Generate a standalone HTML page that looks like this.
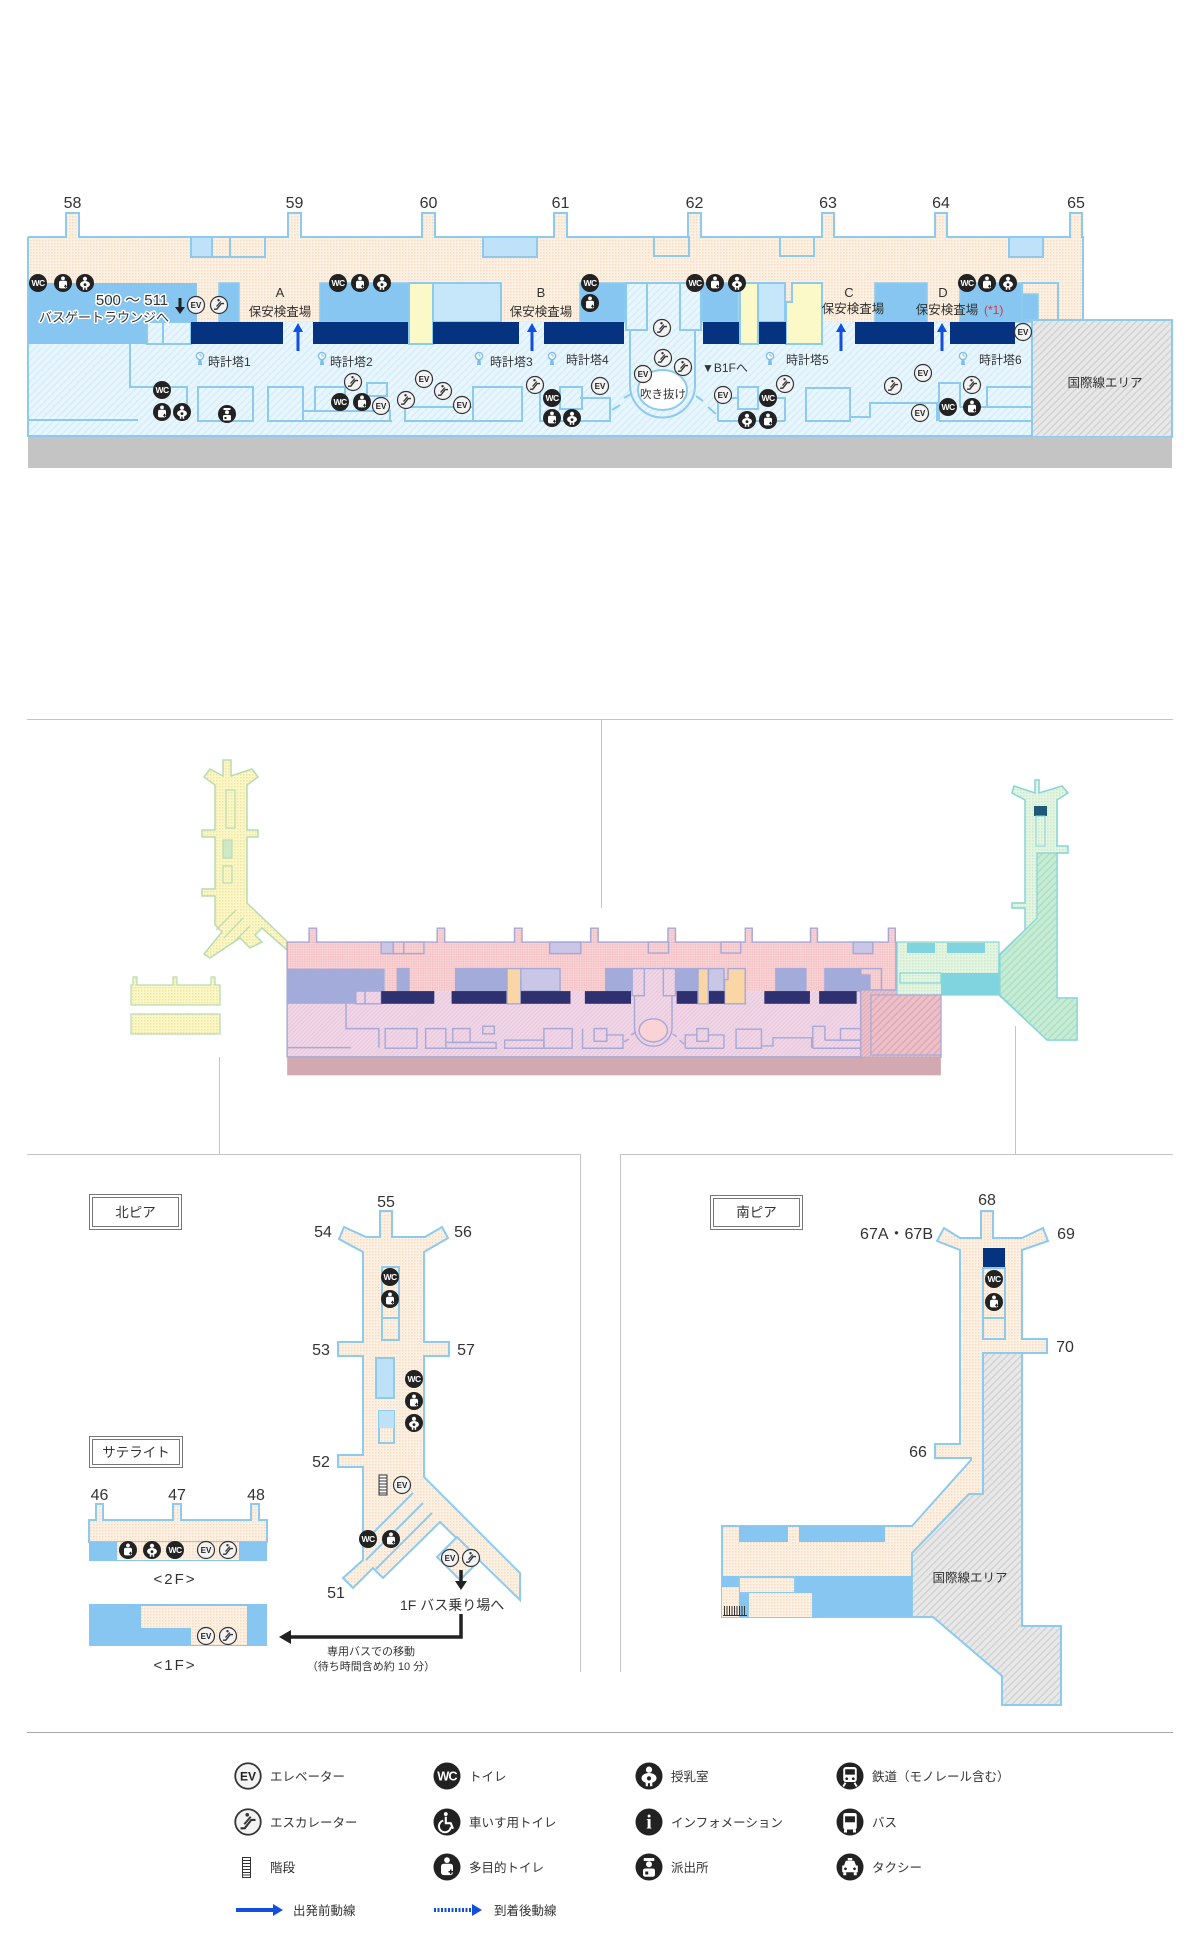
<!DOCTYPE html>
<html><head><meta charset="utf-8">
<style>
html,body{margin:0;padding:0;background:#fff;}
svg{display:block;}
text{font-family:"Liberation Sans","Noto Sans CJK JP",sans-serif;fill:#333;}
.g{font-size:16px;text-anchor:middle;}
.wc{font-size:8.5px;font-weight:bold;fill:#fff;text-anchor:middle;letter-spacing:-0.6px;}
.ev{font-size:8px;font-weight:bold;fill:#222;text-anchor:middle;}
.evc{fill:#f3f3f3;stroke:#333;stroke-width:1.2;}
.s{stroke:#8ccaf0;stroke-width:2;}
.s1{stroke:#8ccaf0;stroke-width:1.5;}
.n{fill:none;}
.lb{font-size:12px;}
.sec{font-size:12.5px;text-anchor:middle;}
.halo{paint-order:stroke;stroke:#fff;stroke-width:3px;stroke-linejoin:round;}
.p{stroke:#a6a9d8;stroke-width:2.5;}
.lg{font-size:12.5px;}
</style></head><body>
<svg width="1200" height="1949" viewBox="0 0 1200 1949" xmlns="http://www.w3.org/2000/svg">
<defs>
<pattern id="pB" width="3" height="3" patternUnits="userSpaceOnUse"><rect width="3" height="3" fill="#fdf1e3"/><rect width="1.5" height="1.5" fill="#f6dcc2"/></pattern>
<pattern id="hB" width="5" height="5" patternUnits="userSpaceOnUse" patternTransform="rotate(45)"><rect width="5" height="5" fill="#e9f6fe"/><rect width="1.5" height="5" fill="#d6edfb"/></pattern>
<pattern id="hG" width="5" height="5" patternUnits="userSpaceOnUse" patternTransform="rotate(45)"><rect width="5" height="5" fill="#e8e8e8"/><rect width="1.5" height="5" fill="#d2d2d2"/></pattern>
<pattern id="pP" width="3" height="3" patternUnits="userSpaceOnUse"><rect width="3" height="3" fill="#f9d3d5"/><rect width="1.5" height="1.5" fill="#f1b5ba"/></pattern>
<pattern id="hP" width="5" height="5" patternUnits="userSpaceOnUse" patternTransform="rotate(45)"><rect width="5" height="5" fill="#f0d6e7"/><rect width="1.5" height="5" fill="#e6c5da"/></pattern>
<pattern id="hD" width="5" height="5" patternUnits="userSpaceOnUse" patternTransform="rotate(45)"><rect width="5" height="5" fill="#ebc0c9"/><rect width="1.5" height="5" fill="#dfa9b5"/></pattern>
<pattern id="pY" width="3" height="3" patternUnits="userSpaceOnUse"><rect width="3" height="3" fill="#fcf7c8"/><rect width="1.5" height="1.5" fill="#efe59c"/></pattern>
<pattern id="pG" width="3" height="3" patternUnits="userSpaceOnUse"><rect width="3" height="3" fill="#e4f5e1"/><rect width="1.5" height="1.5" fill="#cde9cd"/></pattern>
<pattern id="hS" width="5" height="5" patternUnits="userSpaceOnUse" patternTransform="rotate(45)"><rect width="5" height="5" fill="#c6ecd5"/><rect width="1.5" height="5" fill="#addfc2"/></pattern>
<g id="multi"><circle r="9" fill="#222"/><circle cy="-4.6" r="1.9" fill="#fff"/><rect x="-4" y="-2.2" width="8" height="7.6" rx="1.8" fill="#fff"/><path d="M1,3.2h3M2.5,1.7v3" stroke="#222" stroke-width="1"/></g>
<g id="nurse"><circle r="9" fill="#222"/><circle cy="-4.2" r="2.1" fill="#fff"/><ellipse cy="1.4" rx="5" ry="3.4" fill="#fff"/><circle cy="1.6" r="1.4" fill="#222"/><rect x="-2.2" y="4" width="1.5" height="2.8" fill="#fff"/><rect x="0.7" y="4" width="1.5" height="2.8" fill="#fff"/></g>
<g id="esc"><circle r="8.5" fill="#f3f3f3" stroke="#333" stroke-width="1.2"/><path d="M-5,4.2H-2.2L2.2,-1.4H5" fill="none" stroke="#333" stroke-width="1.4"/><path d="M-2.5,1.5L1.8,-3.5" stroke="#333" stroke-width="1.2"/><circle cx="-0.5" cy="-4.8" r="1.2" fill="#333"/></g>
<g id="police"><circle r="9" fill="#222"/><path d="M-3.5,-6h7v2h-7z" fill="#fff"/><circle cy="-1.8" r="2" fill="#fff"/><rect x="-4" y="1" width="8" height="5.5" rx="1.5" fill="#fff"/><rect x="-2.5" y="3" width="2" height="2" fill="#222"/></g>
<g id="clock"><circle cy="-2" r="3.6" fill="#fff" stroke="#7cbde9" stroke-width="1.4"/><path d="M0,-2V-4.2M0,-2H1.8" stroke="#7cbde9" stroke-width="1"/><path d="M-1.4,1.6h2.8l0.6,5.4h-4z" fill="#7cbde9"/></g>
<g id="wheel"><circle r="9" fill="#222"/><circle cx="-0.8" cy="-5.3" r="1.3" fill="#fff"/><path d="M-0.8,-3.5V0.8H2.5L4,4.5" fill="none" stroke="#fff" stroke-width="1.4"/><path d="M-2.5,-1A4,4 0 1 0 2.6,3.2" fill="none" stroke="#fff" stroke-width="1.3"/></g>
<g id="train"><circle r="9" fill="#222"/><rect x="-4.5" y="-6" width="9" height="10" rx="1.8" fill="#fff"/><rect x="-3.2" y="-4.5" width="6.4" height="3.6" fill="#222"/><circle cx="-2.2" cy="1.8" r="0.9" fill="#222"/><circle cx="2.2" cy="1.8" r="0.9" fill="#222"/><path d="M-3,4.5L-4.5,7M3,4.5L4.5,7" stroke="#fff" stroke-width="1.2"/></g>
<g id="bus"><circle r="9" fill="#222"/><rect x="-4.5" y="-6" width="9" height="11" rx="1.5" fill="#fff"/><rect x="-3.3" y="-3.8" width="6.6" height="4" fill="#222"/><rect x="-4" y="5" width="2" height="2" fill="#fff"/><rect x="2" y="5" width="2" height="2" fill="#fff"/></g>
<g id="taxi"><circle r="9" fill="#222"/><rect x="-1.5" y="-6" width="3" height="1.6" fill="#fff"/><path d="M-4,-1L-2.8,-4.2H2.8L4,-1H5.2V3.5H-5.2V-1Z" fill="#fff"/><rect x="-4.5" y="3.5" width="2" height="2" fill="#fff"/><rect x="2.5" y="3.5" width="2" height="2" fill="#fff"/><circle cx="-3" cy="1.2" r="0.9" fill="#222"/><circle cx="3" cy="1.2" r="0.9" fill="#222"/></g>
</defs>

<!-- ================= TOP MAP ================= -->
<rect x="28" y="237" width="1055" height="85" fill="url(#pB)"/>
<path d="M28,237H1083V320" class="s n"/>
<g fill="url(#pB)" class="s">
<path d="M66,238V213H79V238"/><path d="M288,238V213H301V238"/><path d="M422,238V213H435V238"/><path d="M554,238V213H567V238"/><path d="M688,238V213H701V238"/><path d="M822,238V213H834V238"/><path d="M935,238V213H947V238"/><path d="M1070,238V213H1082V238"/>
</g>
<rect x="191" y="237" width="21" height="20" fill="#bfe2f8" class="s"/>
<rect x="212" y="237" width="18" height="20" fill="url(#pB)" class="s"/>
<rect x="230" y="237" width="35" height="20" fill="url(#pB)" class="s"/>
<rect x="483" y="237" width="54" height="20" fill="#bfe2f8" class="s"/>
<rect x="654" y="237" width="35" height="19" fill="url(#pB)" class="s"/>
<rect x="780" y="237" width="34" height="19" fill="url(#pB)" class="s"/>
<rect x="1009" y="237" width="34" height="20" fill="#bfe2f8" class="s"/>

<rect x="28" y="322" width="1004" height="114" fill="url(#hB)"/>
<rect x="28" y="283" width="169" height="61" fill="#86c6f1"/>
<rect x="147" y="322" width="16" height="22" fill="url(#hB)" class="s"/>
<rect x="163" y="322" width="28" height="22" fill="url(#hB)" class="s"/>
<rect x="219" y="283" width="20" height="39" fill="#86c6f1" class="s1"/>
<rect x="320" y="283" width="89" height="39" fill="#86c6f1" class="s1"/>
<path d="M409,283H441V302H433V344H409Z" fill="#fcf9c9" class="s"/>
<rect x="433" y="283" width="68" height="39" fill="#c6e6fa" class="s"/>
<rect x="580" y="283" width="45" height="39" fill="#86c6f1" class="s1"/>
<path d="M630,283H695V385A32.5,32.5 0 0 1 630,385Z" fill="url(#hB)" class="s"/>
<rect x="626" y="283" width="21" height="47" fill="url(#hB)" class="s"/>
<rect x="680" y="283" width="21" height="47" fill="url(#hB)" class="s"/>
<ellipse cx="662.5" cy="390" rx="24.5" ry="20" fill="#fff" class="s"/>
<rect x="702" y="283" width="36" height="39" fill="#86c6f1" class="s1"/>
<rect x="740" y="283" width="18" height="61" fill="#fcf9c9" class="s"/>
<rect x="758" y="283" width="27" height="39" fill="#c6e6fa" class="s"/>
<path d="M786,302H792V283H822V344H786Z" fill="#fcf9c9" class="s"/>
<rect x="875" y="283" width="52" height="39" fill="#86c6f1" class="s1"/>
<path d="M960,283H1022V294H1038V322H960Z" fill="#86c6f1" class="s1"/>
<rect x="1022" y="283" width="36" height="37" class="s n"/>
<g fill="#06337f">
<rect x="191" y="322" width="92" height="22"/><rect x="313" y="322" width="95" height="22"/><rect x="433" y="322" width="86" height="22"/><rect x="544" y="322" width="80" height="22"/><rect x="703" y="322" width="36" height="22"/><rect x="759" y="322" width="27" height="22"/><rect x="855" y="322" width="79" height="22"/><rect x="950" y="322" width="65" height="22"/>
</g>
<g class="s n">
<path d="M130,344V387H187V420"/><path d="M28,420H138"/>
<rect x="198" y="387" width="55" height="34"/><rect x="268" y="387" width="35" height="34"/>
<rect x="315" y="387" width="30" height="24"/><rect x="367" y="383" width="20" height="13"/>
<path d="M303,411H390V421M303,421H392"/>
<rect x="405" y="407" width="68" height="14"/><rect x="473" y="387" width="49" height="34"/>
<rect x="560" y="387" width="22" height="22"/><path d="M540,387V421H610V398H580"/>
<path d="M612,410L620,405M624,398L631,394M696,396L703,401M708,407L716,414"/>
<path d="M718,421V398H738"/><rect x="738" y="387" width="20" height="22"/><path d="M758,398H785V421M718,421H785"/>
<rect x="806" y="388" width="44" height="33"/><path d="M850,417H870V403H937V421"/>
<path d="M939,421V383H960V407"/><rect x="987" y="387" width="45" height="20"/><path d="M960,407H1032M939,421H1032"/>
<path d="M28,237V436H1032"/>
</g>
<rect x="1032" y="320" width="140" height="117" fill="url(#hG)" class="s"/>
<rect x="28" y="437" width="1144" height="31" fill="#c4c4c4"/>
<text x="1105" y="387" class="sec">国際線エリア</text>

<!-- gate numbers -->
<text class="g" x="72.5" y="208">58</text><text class="g" x="294.5" y="208">59</text><text class="g" x="428.5" y="208">60</text><text class="g" x="560.5" y="208">61</text><text class="g" x="694.5" y="208">62</text><text class="g" x="828" y="208">63</text><text class="g" x="941" y="208">64</text><text class="g" x="1076" y="208">65</text>

<!-- security labels & arrows -->
<text x="280" y="297" style="font-size:13px;text-anchor:middle">A</text>
<text x="280" y="316" class="sec">保安検査場</text>
<text x="541" y="297" style="font-size:13px;text-anchor:middle">B</text>
<text x="541" y="316" class="sec">保安検査場</text>
<text x="849" y="297" style="font-size:13px;text-anchor:middle">C</text>
<text x="853" y="313" class="sec">保安検査場</text>
<text x="943" y="297" style="font-size:13px;text-anchor:middle">D</text>
<text x="947" y="314" class="sec">保安検査場</text>
<text x="984" y="314" style="font-size:12px;fill:#e03535">(*1)</text>
<g fill="#1150dd" stroke="#1150dd">
<path d="M298,351V330" stroke-width="3"/><path d="M298,323l-5,9h10z" stroke="none"/>
<path d="M532,351V330" stroke-width="3"/><path d="M532,323l-5,9h10z" stroke="none"/>
<path d="M841,351V330" stroke-width="3"/><path d="M841,323l-5,9h10z" stroke="none"/>
<path d="M942,351V330" stroke-width="3"/><path d="M942,323l-5,9h10z" stroke="none"/>
</g>
<text x="132" y="305" class="halo" style="font-size:15px;text-anchor:middle">500 ～ 511</text>
<text x="104" y="322" class="halo" style="font-size:13px;text-anchor:middle">バスゲートラウンジへ</text>
<path d="M180,298V309" stroke="#222" stroke-width="3"/><path d="M175,307h10l-5,7z" fill="#222"/>

<!-- clock towers -->
<use href="#clock" x="200" y="358"/><text x="208" y="366" class="lb">時計塔1</text>
<use href="#clock" x="322" y="358"/><text x="330" y="366" class="lb">時計塔2</text>
<use href="#clock" x="479" y="358"/><text x="490" y="366" class="lb">時計塔3</text>
<use href="#clock" x="552" y="358"/><text x="566" y="364" class="lb">時計塔4</text>
<use href="#clock" x="770" y="358"/><text x="786" y="364" class="lb">時計塔5</text>
<use href="#clock" x="963" y="358"/><text x="979" y="364" class="lb">時計塔6</text>
<text x="702" y="372" class="lb">▼B1Fへ</text>
<text x="663" y="398" style="font-size:11.5px;text-anchor:middle">吹き抜け</text>

<!-- icons top map -->
<g transform="translate(38,283)"><circle r="9" fill="#222"/><text class="wc" y="3">WC</text></g>
<g transform="translate(338,283)"><circle r="9" fill="#222"/><text class="wc" y="3">WC</text></g>
<g transform="translate(590,283)"><circle r="9" fill="#222"/><text class="wc" y="3">WC</text></g>
<g transform="translate(695,283)"><circle r="9" fill="#222"/><text class="wc" y="3">WC</text></g>
<g transform="translate(967,283)"><circle r="9" fill="#222"/><text class="wc" y="3">WC</text></g>
<g transform="translate(162,390)"><circle r="9" fill="#222"/><text class="wc" y="3">WC</text></g>
<g transform="translate(340,402)"><circle r="9" fill="#222"/><text class="wc" y="3">WC</text></g>
<g transform="translate(552,398)"><circle r="9" fill="#222"/><text class="wc" y="3">WC</text></g>
<g transform="translate(768,398)"><circle r="9" fill="#222"/><text class="wc" y="3">WC</text></g>
<g transform="translate(948,407)"><circle r="9" fill="#222"/><text class="wc" y="3">WC</text></g>
<use href="#multi" x="63" y="283"/><use href="#multi" x="360" y="283"/><use href="#multi" x="590" y="303"/><use href="#multi" x="715" y="283"/><use href="#multi" x="987" y="283"/><use href="#multi" x="162" y="412"/><use href="#multi" x="362" y="402"/><use href="#multi" x="552" y="418"/><use href="#multi" x="768" y="420"/><use href="#multi" x="972" y="407"/>
<use href="#nurse" x="85" y="283"/><use href="#nurse" x="382" y="283"/><use href="#nurse" x="737" y="283"/><use href="#nurse" x="1008" y="283"/><use href="#nurse" x="182" y="412"/><use href="#nurse" x="572" y="418"/><use href="#nurse" x="747" y="420"/>
<use href="#police" x="227" y="414"/>
<g transform="translate(196,305)"><circle r="8.5" class="evc"/><text class="ev" y="3">EV</text></g>
<g transform="translate(381,406)"><circle r="8.5" class="evc"/><text class="ev" y="3">EV</text></g>
<g transform="translate(424,379)"><circle r="8.5" class="evc"/><text class="ev" y="3">EV</text></g>
<g transform="translate(462,405)"><circle r="8.5" class="evc"/><text class="ev" y="3">EV</text></g>
<g transform="translate(600,386)"><circle r="8.5" class="evc"/><text class="ev" y="3">EV</text></g>
<g transform="translate(643,374)"><circle r="8.5" class="evc"/><text class="ev" y="3">EV</text></g>
<g transform="translate(723,395)"><circle r="8.5" class="evc"/><text class="ev" y="3">EV</text></g>
<g transform="translate(923,373)"><circle r="8.5" class="evc"/><text class="ev" y="3">EV</text></g>
<g transform="translate(920,413)"><circle r="8.5" class="evc"/><text class="ev" y="3">EV</text></g>
<g transform="translate(1023,332)"><circle r="8.5" class="evc"/><text class="ev" y="3">EV</text></g>
<use href="#esc" x="219" y="305"/><use href="#esc" x="353" y="382"/><use href="#esc" x="443" y="391"/><use href="#esc" x="406" y="400"/><use href="#esc" x="535" y="385"/><use href="#esc" x="662" y="328"/><use href="#esc" x="663" y="358"/><use href="#esc" x="683" y="367"/><use href="#esc" x="785" y="384"/><use href="#esc" x="893" y="386"/><use href="#esc" x="972" y="385"/>

<!-- ================= SEPARATOR LINES ================= -->
<g stroke="#c4c4c4" stroke-width="1" fill="none">
<path d="M27,719.5H1173"/><path d="M601.5,719V908"/>
<path d="M219.5,1057V1154"/><path d="M1015.5,1026V1154"/>
<path d="M27,1154.5H580.5V1672"/><path d="M1173,1154.5H620.5V1672"/>
</g>
<path d="M27,1732.5H1173" stroke="#a8a8a8" stroke-width="1" fill="none"/>

<!-- ================= OVERVIEW ================= -->
<path d="M223,760H231V776L252,769L258,777L247,785V830H258V837H247V903L290,944L287,950L262,928L255,935L262,942L250,948L240,938L210,958L204,954L222,932L215,925V896H202V889H215V837H202V830H215V785L204,777L210,769L223,776Z" fill="url(#pY)" stroke="#b6dcb2" stroke-width="1.5"/>
<rect x="226" y="790" width="9" height="38" fill="none" stroke="#b6dcb2" stroke-width="1.2"/>
<rect x="223" y="840" width="9" height="18" fill="#cfe9c6" stroke="#b6dcb2" stroke-width="1.2"/>
<rect x="223" y="866" width="9" height="17" fill="none" stroke="#b6dcb2" stroke-width="1.2"/>
<path d="M236,910L216,930M243,918L224,938M250,926L232,944" stroke="#b6dcb2" stroke-width="1.2"/>
<path d="M131,985H133V977H137V985H173V977H177V985H211V977H215V985H220V1005H131Z" fill="url(#pY)" stroke="#b6dcb2" stroke-width="1.2"/>
<rect x="131" y="1014" width="89" height="20" fill="url(#pY)" stroke="#b6dcb2" stroke-width="1.2"/>

<g transform="translate(271,805.3) scale(0.577)">
<rect x="28" y="237" width="1055" height="85" fill="url(#pP)"/>
<path d="M28,237H1083V320" class="p n"/>
<g fill="url(#pP)" class="p">
<path d="M66,238V213H79V238"/><path d="M288,238V213H301V238"/><path d="M422,238V213H435V238"/><path d="M554,238V213H567V238"/><path d="M688,238V213H701V238"/><path d="M822,238V213H834V238"/><path d="M935,238V213H947V238"/><path d="M1070,238V213H1082V238"/>
</g>
<rect x="191" y="237" width="21" height="20" fill="#c9c6e6" class="p"/>
<rect x="212" y="237" width="18" height="20" fill="url(#pP)" class="p"/>
<rect x="230" y="237" width="35" height="20" fill="url(#pP)" class="p"/>
<rect x="483" y="237" width="54" height="20" fill="#c9c6e6" class="p"/>
<rect x="654" y="237" width="35" height="19" fill="url(#pP)" class="p"/>
<rect x="780" y="237" width="34" height="19" fill="url(#pP)" class="p"/>
<rect x="1009" y="237" width="34" height="20" fill="#c9c6e6" class="p"/>
<rect x="28" y="322" width="1004" height="114" fill="url(#hP)"/>
<rect x="28" y="283" width="169" height="61" fill="#a3abdb"/>
<rect x="147" y="322" width="16" height="22" fill="url(#hP)" class="p"/>
<rect x="163" y="322" width="28" height="22" fill="url(#hP)" class="p"/>
<rect x="219" y="283" width="20" height="39" fill="#a3abdb" class="p"/>
<rect x="320" y="283" width="89" height="39" fill="#a3abdb" class="p"/>
<path d="M409,283H441V302H433V344H409Z" fill="#fad6a6" class="p"/>
<rect x="433" y="283" width="68" height="39" fill="#c9c6e6" class="p"/>
<rect x="580" y="283" width="45" height="39" fill="#a3abdb" class="p"/>
<path d="M630,283H695V385A32.5,32.5 0 0 1 630,385Z" fill="url(#hP)" class="p"/>
<rect x="626" y="283" width="21" height="47" fill="url(#hP)" class="p"/>
<rect x="680" y="283" width="21" height="47" fill="url(#hP)" class="p"/>
<ellipse cx="662.5" cy="390" rx="24.5" ry="20" fill="#f9d3d5" class="p"/>
<rect x="702" y="283" width="36" height="39" fill="#a3abdb" class="p"/>
<rect x="740" y="283" width="18" height="61" fill="#fad6a6" class="p"/>
<rect x="758" y="283" width="27" height="39" fill="#c9c6e6" class="p"/>
<path d="M786,302H792V283H822V344H786Z" fill="#fad6a6" class="p"/>
<rect x="875" y="283" width="52" height="39" fill="#a3abdb" class="p"/>
<path d="M960,283H1022V294H1038V322H960Z" fill="#a3abdb" class="p"/>
<rect x="1022" y="283" width="36" height="37" class="p n"/>
<g fill="#2e306f">
<rect x="191" y="322" width="92" height="22"/><rect x="313" y="322" width="95" height="22"/><rect x="433" y="322" width="86" height="22"/><rect x="544" y="322" width="80" height="22"/><rect x="703" y="322" width="36" height="22"/><rect x="759" y="322" width="27" height="22"/><rect x="855" y="322" width="79" height="22"/><rect x="950" y="322" width="65" height="22"/>
</g>
<g class="p n">
<path d="M130,344V387H187V420"/><path d="M28,420H138"/>
<rect x="198" y="387" width="55" height="34"/><rect x="268" y="387" width="35" height="34"/>
<rect x="315" y="387" width="30" height="24"/><rect x="367" y="383" width="20" height="13"/>
<path d="M303,411H390V421M303,421H392"/>
<rect x="405" y="407" width="68" height="14"/><rect x="473" y="387" width="49" height="34"/>
<rect x="560" y="387" width="22" height="22"/><path d="M540,387V421H610V398H580"/>
<path d="M612,410L620,405M624,398L631,394M696,396L703,401M708,407L716,414"/>
<path d="M718,421V398H738"/><rect x="738" y="387" width="20" height="22"/><path d="M758,398H785V421M718,421H785"/>
<rect x="806" y="388" width="44" height="33"/><path d="M850,417H870V403H937V421"/>
<path d="M939,421V383H960V407"/><rect x="987" y="387" width="45" height="20"/><path d="M960,407H1032M939,421H1032"/>
<path d="M28,237V436H1032"/>
</g>
<rect x="1022" y="320" width="139" height="117" fill="url(#hD)" class="p"/>
<rect x="28" y="437" width="1133" height="31" fill="#d3a9b1"/>
</g>

<rect x="897" y="942" width="102" height="53" fill="url(#pG)" stroke="#86d4dc" stroke-width="1.2"/>
<rect x="907" y="943" width="28" height="10" fill="#80d4e0"/>
<rect x="947" y="943" width="38" height="10" fill="#80d4e0"/>
<rect x="941" y="973" width="58" height="22" fill="#80d4e0"/>
<rect x="900" y="973" width="41" height="10" fill="none" stroke="#86d4dc" stroke-width="1.2"/>
<rect x="871" y="995" width="70" height="60" fill="url(#hD)" stroke="#a6a9d8" stroke-width="1.2"/>
<path d="M1035,780H1039V793L1062,786L1068,793L1057,800V846H1068V853H1057V998H1077V1040H1047L999,995V955L1025,930V908H1012V903H1025V800L1012,793L1014,786L1035,793Z" fill="url(#pG)" stroke="#86d4dc" stroke-width="1.5"/>
<path d="M1037,853H1057V998H1077V1040H1047L1000,995V955L1037,918Z" fill="url(#hS)" stroke="#86d4dc" stroke-width="1.2"/>
<rect x="1034" y="806" width="13" height="10" fill="#1e5a78"/>
<rect x="1036" y="816" width="9" height="30" fill="none" stroke="#86d4dc" stroke-width="1"/>

<!-- ================= NORTH PIER DETAIL ================= -->
<rect x="89.5" y="1194.5" width="92" height="35" fill="#fff" stroke="#777"/>
<rect x="92.5" y="1197.5" width="86" height="29" fill="none" stroke="#777"/>
<text x="135.5" y="1217" style="font-size:13.5px;text-anchor:middle">北ピア</text>

<path d="M366,1237H380V1211H392V1237H425L442,1227L448,1238L424,1252V1342H449V1356H424V1477L520,1573V1600L440,1522L383,1578L373,1568L353,1588L343,1578L363,1560V1467H338V1455H363V1356H338V1342H363V1252L339,1239L344,1227Z" fill="url(#pB)" class="s"/>
<path d="M413,1493L363,1543M423,1503L366,1560M432,1513L376,1569" class="s n" stroke-width="1.5"/>
<path d="M437,1557L457,1537L480,1560L460,1580Z" fill="url(#pB)" class="s"/>
<rect x="382" y="1267" width="17" height="73" fill="none" class="s" stroke-width="1.5"/>
<path d="M382,1318H399" class="s" stroke-width="1.5"/>
<rect x="376" y="1358" width="18" height="40" fill="#bde2f8" class="s" stroke-width="1.5"/>
<rect x="379" y="1411" width="15" height="32" fill="none" class="s" stroke-width="1.5"/>
<rect x="379" y="1411" width="15" height="17" fill="#bde2f8"/>
<g stroke="#333" stroke-width="1"><rect x="379" y="1475" width="8" height="20" fill="#fff"/><path d="M379,1478H387M379,1481H387M379,1484H387M379,1487H387M379,1490H387M379,1493H387"/></g>

<text class="g" x="386" y="1207">55</text>
<text class="g" x="323" y="1237">54</text>
<text class="g" x="463" y="1237">56</text>
<text class="g" x="321" y="1355">53</text>
<text class="g" x="466" y="1355">57</text>
<text class="g" x="321" y="1467">52</text>
<text class="g" x="336" y="1598">51</text>

<g transform="translate(390,1277)"><circle r="9" fill="#222"/><text class="wc" y="3">WC</text></g>
<use href="#multi" x="390" y="1299"/>
<g transform="translate(414,1379)"><circle r="9" fill="#222"/><text class="wc" y="3">WC</text></g>
<use href="#multi" x="414" y="1401"/>
<use href="#nurse" x="414" y="1423"/>
<g transform="translate(402,1485)"><circle r="8.5" class="evc"/><text class="ev" y="3">EV</text></g>
<g transform="translate(368,1539)"><circle r="9" fill="#222"/><text class="wc" y="3">WC</text></g>
<use href="#multi" x="391" y="1539"/>
<g transform="translate(450,1558)"><circle r="8.5" class="evc"/><text class="ev" y="3">EV</text></g>
<use href="#esc" x="471" y="1558"/>

<path d="M461,1570V1582" stroke="#222" stroke-width="3.5"/><path d="M455,1581H467L461,1590Z" fill="#222"/>
<text x="400" y="1610" style="font-size:14px">1F バス乗り場へ</text>
<path d="M461,1614V1637H288" stroke="#222" stroke-width="3.5" fill="none"/>
<path d="M279,1637L291,1630V1644Z" fill="#222"/>
<text x="371" y="1655" style="font-size:11px;text-anchor:middle">専用バスでの移動</text>
<text x="371" y="1670" style="font-size:11px;text-anchor:middle">（待ち時間含め約 10 分）</text>

<!-- satellite -->
<rect x="89.5" y="1436.5" width="93" height="31" fill="#fff" stroke="#777"/>
<rect x="92.5" y="1439.5" width="87" height="25" fill="none" stroke="#777"/>
<text x="136" y="1457" style="font-size:13.5px;text-anchor:middle">サテライト</text>
<text class="g" x="99.5" y="1500">46</text>
<text class="g" x="177" y="1500">47</text>
<text class="g" x="256" y="1500">48</text>
<path d="M89,1542V1520H96V1504H103V1520H173V1504H181V1520H251V1504H259V1520H267V1542Z" fill="url(#pB)" class="s"/>
<rect x="89" y="1542" width="178" height="19" fill="#86c6f1"/>
<rect x="117" y="1542" width="122" height="18" fill="url(#pB)"/>
<use href="#multi" x="128" y="1550"/>
<use href="#nurse" x="152" y="1550"/>
<g transform="translate(175,1550)"><circle r="9" fill="#222"/><text class="wc" y="3">WC</text></g>
<g transform="translate(206,1550)"><circle r="8.5" class="evc"/><text class="ev" y="3">EV</text></g>
<use href="#esc" x="228" y="1550"/>
<text x="175" y="1584" style="font-size:15px;text-anchor:middle;letter-spacing:2px">&lt;2F&gt;</text>
<rect x="89" y="1604" width="178" height="42" fill="#86c6f1"/>
<path d="M141,1606H247V1645H191V1628H141Z" fill="url(#pB)"/>
<g transform="translate(206,1636)"><circle r="8.5" class="evc"/><text class="ev" y="3">EV</text></g>
<use href="#esc" x="228" y="1636"/>
<text x="175" y="1670" style="font-size:15px;text-anchor:middle;letter-spacing:2px">&lt;1F&gt;</text>

<!-- ================= SOUTH PIER DETAIL ================= -->
<rect x="710.5" y="1195.5" width="92" height="34" fill="#fff" stroke="#777"/>
<rect x="713.5" y="1198.5" width="86" height="28" fill="none" stroke="#777"/>
<text x="756.5" y="1217" style="font-size:13.5px;text-anchor:middle">南ピア</text>

<path d="M960,1238H981V1211H993V1238H1022L1043,1228L1048,1241L1022,1250V1339H1047V1353H983V1494H969L912,1553V1617H722V1526H912L971,1460V1458H935V1444H960V1250L937,1241L944,1228Z" fill="url(#pB)" class="s"/>
<path d="M983,1353H1022V1626H1061V1705H1002V1676L933,1617H912V1553L969,1494H983Z" fill="url(#hG)" class="s"/>
<rect x="983" y="1248" width="22" height="20" fill="#06337f"/>
<rect x="983" y="1268" width="22" height="71" fill="none" class="s" stroke-width="1.5"/>
<path d="M983,1318H1005" class="s" stroke-width="1.5"/>
<rect x="739" y="1526" width="49" height="16" fill="#86c6f1"/>
<rect x="799" y="1526" width="86" height="16" fill="#86c6f1"/>
<rect x="722" y="1576" width="190" height="41" fill="#86c6f1"/>
<rect x="739" y="1577" width="56" height="16" fill="url(#pB)" class="s" stroke-width="1.2"/>
<rect x="749" y="1593" width="63" height="24" fill="url(#pB)"/>
<rect x="722" y="1587" width="17" height="30" fill="url(#pB)"/>
<g stroke="#333" stroke-width="1"><path d="M724.5,1606V1615M727,1606V1615M729.5,1606V1615M732,1606V1615M734.5,1606V1615M737,1606V1615M739.5,1606V1615M742,1606V1615M744.5,1606V1615"/><path d="M723,1615.5H747"/></g>
<g transform="translate(994,1279)"><circle r="9" fill="#222"/><text class="wc" y="3">WC</text></g>
<use href="#multi" x="994" y="1302"/>
<text x="970" y="1582" class="sec">国際線エリア</text>
<text class="g" x="987" y="1205">68</text>
<text class="g" x="933" y="1239" style="text-anchor:end">67A・67B</text>
<text class="g" x="1066" y="1239">69</text>
<text class="g" x="1065" y="1352">70</text>
<text class="g" x="918" y="1457">66</text>

<!-- ================= LEGEND ================= -->
<g transform="translate(248,1776) scale(1.5)"><circle r="8.5" class="evc"/><text class="ev" y="3">EV</text></g>
<text x="270" y="1781" class="lg">エレベーター</text>
<g transform="translate(447,1776) scale(1.5)"><circle r="9" fill="#222"/><text class="wc" y="3">WC</text></g>
<text x="469" y="1781" class="lg">トイレ</text>
<use href="#nurse" transform="translate(649,1776) scale(1.5)"/>
<text x="671" y="1781" class="lg">授乳室</text>
<use href="#train" transform="translate(850,1776) scale(1.5)"/>
<text x="872" y="1781" class="lg">鉄道（モノレール含む）</text>

<use href="#esc" transform="translate(248,1822) scale(1.5)"/>
<text x="270" y="1827" class="lg">エスカレーター</text>
<use href="#wheel" transform="translate(447,1822) scale(1.5)"/>
<text x="469" y="1827" class="lg">車いす用トイレ</text>
<g transform="translate(649,1822)"><circle r="13.5" fill="#222"/><text y="6.5" style="font-family:'Liberation Serif',serif;font-size:20px;font-weight:bold;fill:#fff;text-anchor:middle">i</text></g>
<text x="671" y="1827" class="lg">インフォメーション</text>
<use href="#bus" transform="translate(850,1822) scale(1.5)"/>
<text x="872" y="1827" class="lg">バス</text>

<g stroke="#333" stroke-width="1"><rect x="242.5" y="1857.5" width="8" height="20" fill="#fff"/><path d="M242.5,1860.5H250.5M242.5,1863.5H250.5M242.5,1866.5H250.5M242.5,1869.5H250.5M242.5,1872.5H250.5M242.5,1875H250.5"/></g>
<text x="270" y="1872" class="lg">階段</text>
<use href="#multi" transform="translate(447,1867) scale(1.5)"/>
<text x="469" y="1872" class="lg">多目的トイレ</text>
<use href="#police" transform="translate(649,1867) scale(1.5)"/>
<text x="671" y="1872" class="lg">派出所</text>
<use href="#taxi" transform="translate(850,1867) scale(1.5)"/>
<text x="872" y="1872" class="lg">タクシー</text>

<path d="M236,1910H274" stroke="#1150dd" stroke-width="4"/><path d="M273,1904L283,1910L273,1916Z" fill="#1150dd"/>
<text x="293" y="1915" class="lg">出発前動線</text>
<path d="M434,1910H473" stroke="#1150dd" stroke-width="4" stroke-dasharray="2,1.5"/><path d="M472,1904L482,1910L472,1916Z" fill="#1150dd"/>
<text x="494" y="1915" class="lg">到着後動線</text>
</svg>
</body></html>
